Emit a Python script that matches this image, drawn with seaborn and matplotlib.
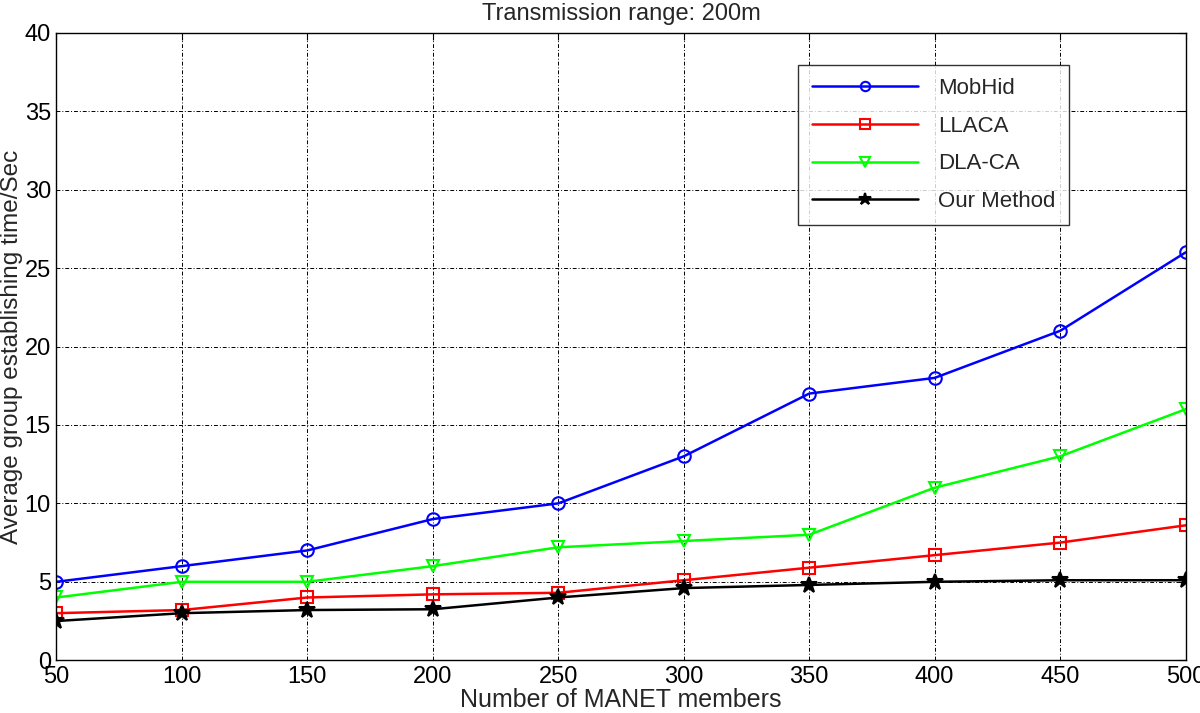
import matplotlib
matplotlib.use("Agg")
import matplotlib.pyplot as plt
import seaborn as sns
import pandas as pd

members = [50, 100, 150, 200, 250, 300, 350, 400, 450, 500]
mobhid = [5, 6, 7, 9, 10, 13, 17, 18, 21, 26]
llaca = [3.0, 3.2, 4.0, 4.2, 4.3, 5.1, 5.9, 6.7, 7.5, 8.6]
dlaca = [4.0, 5.0, 5.0, 6.0, 7.2, 7.6, 8.0, 11, 13, 16]
ours = [2.5, 3.0, 3.2, 3.25, 4.0, 4.6, 4.8, 5.0, 5.1, 5.1]

series_names = ["MobHid", "LLACA", "DLA-CA", "Our Method"]
series_vals = [mobhid, llaca, dlaca, ours]
colors = ["#0000ff", "#ff0000", "#00ff00", "#000000"]
markers = ["o", "s", "v", "*"]

rows = []
for n, vals in zip(series_names, series_vals):
    for x, y in zip(members, vals):
        rows.append({"members": x, "value": y, "method": n})
df = pd.DataFrame(rows)

sns.set_style("white")
plt.rcParams["font.family"] = ["Liberation Sans", "DejaVu Sans"]

fig = plt.figure(figsize=(12, 7.13), dpi=100)
ax = fig.add_axes([0.047, 0.074, 0.941, 0.88])

for n, c, m in zip(series_names, colors, markers):
    sub = df[df["method"] == n]
    face = c if m == "*" else "none"
    ms = 12 if m == "*" else 9
    sns.lineplot(data=sub, x="members", y="value", ax=ax, color=c, marker=m,
                 markersize=ms, markerfacecolor=face, markeredgecolor=c,
                 markeredgewidth=1.5, linewidth=1.8, label=n)

ax.set_xlim(50, 500)
ax.set_ylim(0, 40)
ax.set_xticks(members)
ax.set_yticks(range(0, 41, 5))
ax.tick_params(direction="in", labelsize=17, length=5, top=True, right=True,
               colors="black", pad=4)
ax.grid(True, color="black", linestyle=(0, (4, 2, 1, 2)), linewidth=0.7)
for s in ax.spines.values():
    s.set_visible(True)
    s.set_color("black")
    s.set_linewidth(1.0)
ax.set_xlabel("Number of MANET members", fontsize=18, labelpad=0)
ax.set_ylabel("Average group establishing time/Sec", fontsize=17.5)
ax.yaxis.set_label_coords(-0.030, 0.5)
ax.set_title("Transmission range: 200m", fontsize=17, pad=9)

leg = ax.legend(loc="upper left", bbox_to_anchor=(0.657, 0.949), borderaxespad=0,
                fontsize=16, frameon=True, fancybox=False, edgecolor="black",
                borderpad=0.6, labelspacing=0.75, handlelength=4.8,
                handletextpad=0.9, markerscale=0.75)
leg.get_frame().set_linewidth(1.0)

fig.savefig("out.png", dpi=100)
